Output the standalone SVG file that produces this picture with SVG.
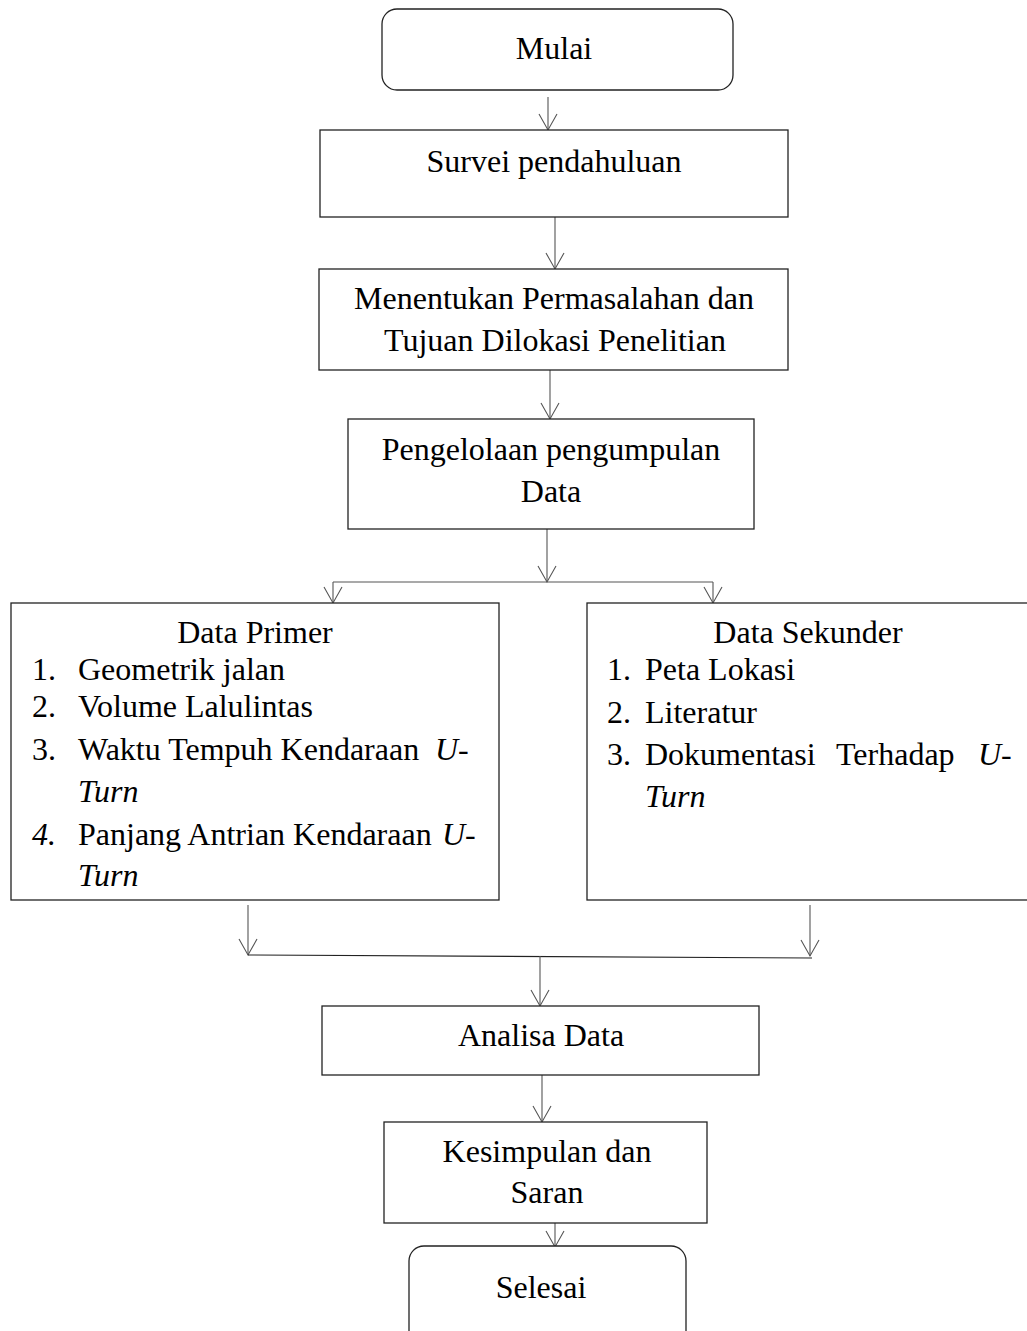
<svg xmlns="http://www.w3.org/2000/svg" width="1027" height="1331" viewBox="0 0 1027 1331">
<style>
text{font-family:"Liberation Serif","Times New Roman",serif;font-size:32px;fill:#000}
.c{text-anchor:middle}
.i{font-style:italic}
.box{fill:#fff;stroke:#222;stroke-width:1.3}
.ln{fill:none;stroke:#555;stroke-width:1.1}
</style>
<defs>
<marker id="ah" markerUnits="userSpaceOnUse" viewBox="-17 -11 18 22" markerWidth="18" markerHeight="22" refX="0" refY="0" orient="auto" overflow="visible">
<path d="M-16,-9 L0,0 L-16,9" fill="none" stroke="#555" stroke-width="1.1"/>
</marker>
</defs>
<rect width="1027" height="1331" fill="#fff"/>
<g id="connectors">
<path class="ln" d="M548,97 V130" marker-end="url(#ah)"/>
<path class="ln" d="M555,217 V269" marker-end="url(#ah)"/>
<path class="ln" d="M550,370 V419" marker-end="url(#ah)"/>
<path class="ln" d="M547,529 V582" marker-end="url(#ah)"/>
<path class="ln" d="M333,582 H713"/>
<path class="ln" d="M333,582 V603" marker-end="url(#ah)"/>
<path class="ln" d="M713,582 V603" marker-end="url(#ah)"/>
<path class="ln" d="M248,905 V955" marker-end="url(#ah)"/>
<path class="ln" d="M810,905 V956" marker-end="url(#ah)"/>
<path class="ln" d="M248,955 L812,958" style="stroke:#222"/>
<path class="ln" d="M540,956 V1006" marker-end="url(#ah)"/>
<path class="ln" d="M542,1075 V1122" marker-end="url(#ah)"/>
<path class="ln" d="M555,1223 V1247" marker-end="url(#ah)"/>
</g>
<g id="mulai">
<rect class="box" x="382" y="9" width="351" height="81" rx="15"/>
<text class="c" x="554" y="59">Mulai</text>
</g>
<g id="survei">
<rect class="box" x="320" y="130" width="468" height="87"/>
<text class="c" x="554" y="172">Survei pendahuluan</text>
</g>
<g id="menentukan">
<rect class="box" x="319" y="269" width="469" height="101"/>
<text class="c" x="554" y="309">Menentukan Permasalahan dan</text>
<text class="c" x="555" y="351">Tujuan Dilokasi Penelitian</text>
</g>
<g id="pengelolaan">
<rect class="box" x="348" y="419" width="406" height="110"/>
<text class="c" x="551" y="460">Pengelolaan pengumpulan</text>
<text class="c" x="551" y="502">Data</text>
</g>
<g id="data-primer">
<rect class="box" x="11" y="603" width="488" height="297"/>
<text class="c" x="255" y="643">Data Primer</text>
<text x="32" y="680">1.</text><text x="78" y="680">Geometrik jalan</text>
<text x="32" y="717">2.</text><text x="78" y="717">Volume Lalulintas</text>
<text x="32" y="760">3.</text><text x="78" y="760">Waktu Tempuh Kendaraan</text><text class="i" x="435" y="760">U-</text>
<text class="i" x="78" y="802">Turn</text>
<text class="i" x="32" y="845">4.</text><text x="78" y="845">Panjang Antrian Kendaraan</text><text class="i" x="442" y="845">U-</text>
<text class="i" x="78" y="886">Turn</text>
</g>
<g id="data-sekunder">
<rect class="box" x="587" y="603" width="450" height="297"/>
<text class="c" x="808" y="643">Data Sekunder</text>
<text x="607" y="680">1.</text><text x="645" y="680">Peta Lokasi</text>
<text x="607" y="723">2.</text><text x="645" y="723">Literatur</text>
<text x="607" y="765">3.</text><text x="645" y="765">Dokumentasi</text><text x="836" y="765">Terhadap</text><text class="i" x="978" y="765">U-</text>
<text class="i" x="645" y="807">Turn</text>
</g>
<g id="analisa">
<rect class="box" x="322" y="1006" width="437" height="69"/>
<text class="c" x="541" y="1046">Analisa Data</text>
</g>
<g id="kesimpulan">
<rect class="box" x="384" y="1122" width="323" height="101"/>
<text class="c" x="547" y="1162">Kesimpulan dan</text>
<text class="c" x="547" y="1203">Saran</text>
</g>
<g id="selesai">
<rect class="box" x="409" y="1246" width="277" height="100" rx="15"/>
<text class="c" x="541" y="1298">Selesai</text>
</g>
</svg>
